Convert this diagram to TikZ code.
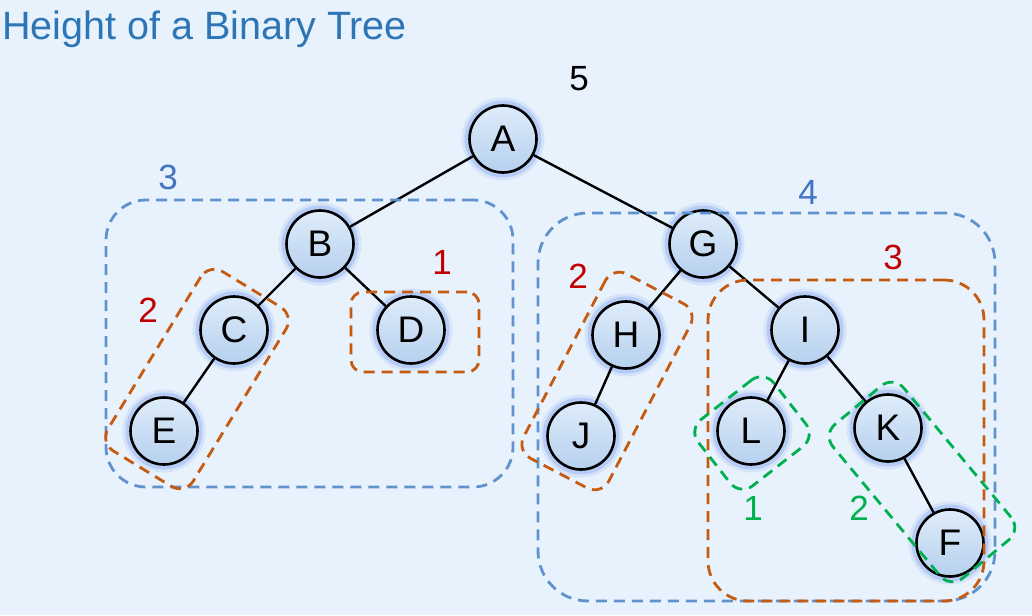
\documentclass[tikz,border=0pt]{standalone}
\usepackage{fontspec}
\setmainfont{Liberation Sans}
\definecolor{bgblue}{RGB}{231,242,252}
\definecolor{titleblue}{RGB}{46,117,182}
\definecolor{numblue}{RGB}{68,114,196}
\definecolor{boxblue}{RGB}{96,146,205}
\definecolor{boxorange}{RGB}{197,90,17}
\definecolor{boxgreen}{RGB}{0,176,80}
\definecolor{numred}{RGB}{192,0,0}
\definecolor{nodetop}{RGB}{222,236,250}
\definecolor{nodebot}{RGB}{182,208,238}
\definecolor{glow}{RGB}{90,130,235}
\begin{document}
\begin{tikzpicture}[x=1pt,y=-1pt,
  treenode/.style={circle, draw=black, line width=2.6pt, minimum size=67pt, inner sep=0pt,
    top color=nodetop, bottom color=nodebot,
    font=\fontsize{37}{37}\selectfont,
    preaction={draw=glow, line width=16pt, draw opacity=0.12},
    preaction={draw=glow, line width=10pt, draw opacity=0.25}},
  edge/.style={draw=black, line width=2.4pt},
  dashbox/.style={draw, line width=2.8pt, dash pattern=on 11pt off 7pt, inner sep=0pt, fill=none},
  bluebox/.style={dashbox, draw=boxblue},
  orangebox/.style={dashbox, draw=boxorange},
  greenbox/.style={dashbox, draw=boxgreen},
  heightlabel/.style={font=\fontsize{35}{35}\selectfont, inner sep=0pt}
]
% canvas
\fill[bgblue] (0,0) rectangle (1032,615);
\useasboundingbox (0,0) rectangle (1032,615);

% title
\node[anchor=base west, inner sep=0pt, text=titleblue, font=\fontsize{39.5}{40}\selectfont] (title) at (2,40) {Height of a Binary Tree};

% tree nodes
\node[treenode] (A) at (503,139) {A};
\node[treenode] (B) at (320,244) {B};
\node[treenode] (C) at (234,330) {C};
\node[treenode] (D) at (411,330) {D};
\node[treenode] (E) at (164,431) {E};
\node[treenode] (G) at (703,244) {G};
\node[treenode] (H) at (626,335) {H};
\node[treenode] (I) at (805,330) {I};
\node[treenode] (J) at (581,436) {J};
\node[treenode] (L) at (751,431) {L};
\node[treenode] (K) at (888,428) {K};
\node[treenode] (F) at (950,543) {F};

% edges
\draw[edge] (A) -- (B);
\draw[edge] (A) -- (G);
\draw[edge] (B) -- (C);
\draw[edge] (B) -- (D);
\draw[edge] (C) -- (E);
\draw[edge] (G) -- (H);
\draw[edge] (G) -- (I);
\draw[edge] (H) -- (J);
\draw[edge] (I) -- (L);
\draw[edge] (I) -- (K);
\draw[edge] (K) -- (F);

% subtree outlines
\node[bluebox, rounded corners=40pt, minimum width=407pt, minimum height=287pt] (boxB) at (309.5,343.5) {};
\node[bluebox, rounded corners=50pt, minimum width=457pt, minimum height=388pt] (boxG) at (766.5,407) {};
\node[orangebox, rounded corners=12pt, minimum width=128pt, minimum height=80pt] (boxD) at (415,332) {};
\node[orangebox, rounded corners=40pt, minimum width=276pt, minimum height=321pt] (boxI) at (846,440.5) {};
\node[orangebox, rounded corners=16pt, rotate=58.6, minimum width=210pt, minimum height=100pt] (boxC) at (197,379) {};
\node[orangebox, rounded corners=16pt, rotate=62.4, minimum width=208pt, minimum height=96pt] (boxH) at (607,381) {};
\node[greenbox, rounded corners=16pt, rotate=38, minimum width=96pt, minimum height=84pt] (boxL) at (752,433) {};
\node[greenbox, rounded corners=16pt, rotate=-50.3, minimum width=200pt, minimum height=92pt] (boxK) at (922,482) {};

% heights
\node[heightlabel, text=black] (h5) at (579,79) {5};
\node[heightlabel, text=numblue] (hB) at (168,177) {3};
\node[heightlabel, text=numblue] (hG) at (808,192) {4};
\node[heightlabel, text=numred] (hD) at (442,262) {1};
\node[heightlabel, text=numred] (hC) at (148,310) {2};
\node[heightlabel, text=numred] (hH) at (578,276) {2};
\node[heightlabel, text=numred] (hI) at (893,257) {3};
\node[heightlabel, text=boxgreen] (hL) at (753,508) {1};
\node[heightlabel, text=boxgreen] (hK) at (859,508) {2};
\end{tikzpicture}
\end{document}
